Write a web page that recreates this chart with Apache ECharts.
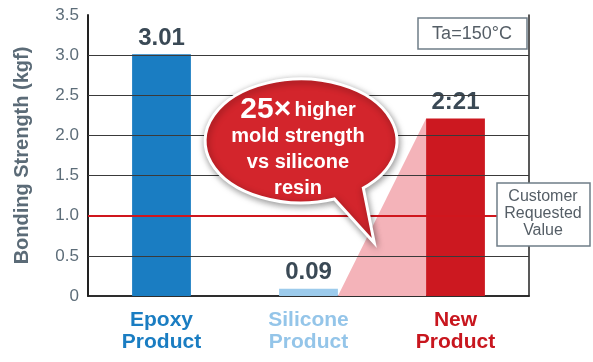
<!DOCTYPE html>
<html>
<head>
<meta charset="utf-8">
<script src="https://cdn.jsdelivr.net/npm/echarts@6/dist/echarts.min.js"></script>
<style>html,body{margin:0;padding:0;background:#fff;}#c{width:593px;height:362px;}</style>
</head>
<body>
<div id="c"></div>
<script>
var categories = ['Epoxy\nProduct', 'Silicone\nProduct', 'New\nProduct'];
var values = [3.01, 0.09, 2.21];
var valueLabels = ['3.01', '0.09', '2:21'];
var barColors = ['#1a7dc2', '#9ccbec', '#cc1820'];
var yTicks = [0, 0.5, 1.0, 1.5, 2.0, 2.5, 3.0, 3.5];
var requestedValue = 1.0;

var FONT = '"Liberation Sans", Arial, sans-serif';
var chart = echarts.init(document.getElementById('c'));

var gridLineData = yTicks.filter(function (t) { return t > 0 && t < 3.5 && t !== requestedValue; })
  .map(function (t) { return { yAxis: t, lineStyle: { color: '#3a3a3a', width: 1 } }; });
gridLineData.push({ yAxis: requestedValue, lineStyle: { color: '#d0161d', width: 2 } });

var option = {
  animation: false,
  textStyle: { fontFamily: FONT },
  grid: { left: 88, right: 64, top: 15, bottom: 66 },
  xAxis: [{
    type: 'category',
    data: categories,
    axisLine: { lineStyle: { color: '#222', width: 1.5 } },
    axisTick: { show: false },
    splitLine: { show: false },
    axisLabel: {
      margin: 13,
      formatter: function (v, i) { return '{c' + i + '|' + v + '}'; },
      rich: {
        c0: { color: '#1a7dc2', fontSize: 21, fontWeight: 'bold', lineHeight: 22, fontFamily: FONT },
        c1: { color: '#94c5e9', fontSize: 21, fontWeight: 'bold', lineHeight: 22, fontFamily: FONT },
        c2: { color: '#c8161e', fontSize: 21, fontWeight: 'bold', lineHeight: 22, fontFamily: FONT }
      }
    }
  }, {
    type: 'category',
    position: 'top',
    data: categories,
    axisLine: { show: true, lineStyle: { color: '#222', width: 1.5 } },
    axisTick: { show: false },
    axisLabel: { show: false },
    splitLine: { show: false }
  }],
  yAxis: [{
    type: 'value',
    min: 0, max: 3.5, interval: 0.5,
    name: 'Bonding Strength (kgf)',
    nameLocation: 'middle',
    nameGap: 56,
    nameTextStyle: { color: '#5b6b77', fontSize: 20, fontWeight: 'bold', fontFamily: FONT },
    axisLine: { show: true, lineStyle: { color: '#222', width: 2 } },
    axisTick: { show: false },
    axisLabel: {
      color: '#5d6d79', fontSize: 17, margin: 9, fontFamily: FONT,
      formatter: function (v) { return v === 0 ? '0' : v.toFixed(1); }
    },
    splitLine: { show: false }
  }, {
    type: 'value',
    position: 'right',
    min: 0, max: 3.5, interval: 0.5,
    axisLine: { show: true, lineStyle: { color: '#222', width: 1.5 } },
    axisTick: { show: false },
    axisLabel: { show: false },
    splitLine: { show: false }
  }],
  series: [
    {
      type: 'custom',
      z: 1,
      data: [[1, 2]],
      renderItem: function (params, api) {
        var bw = api.size([1, 0])[0] * 0.4;
        var p0 = api.coord([1, 0]);
        var p1 = api.coord([2, values[2]]);
        var p2 = api.coord([2, 0]);
        return {
          type: 'polygon',
          shape: { points: [[p0[0] + bw / 2, p0[1]], [p1[0] - bw / 2, p1[1]], [p2[0] - bw / 2, p2[1]]] },
          style: { fill: '#f4b3b9' }
        };
      }
    },
    {
      type: 'line',
      z: 2,
      data: [],
      silent: true,
      markLine: {
        silent: true,
        symbol: ['none', 'none'],
        label: { show: false },
        lineStyle: { type: 'solid' },
        data: gridLineData
      }
    },
    {
      type: 'bar',
      z: 3,
      barWidth: '40%',
      data: values.map(function (v, i) {
        return { value: v, itemStyle: { color: barColors[i] } };
      }),
      label: {
        show: true,
        position: 'top',
        distance: 4,
        formatter: function (p) { return valueLabels[p.dataIndex]; },
        color: '#3a4955',
        fontSize: 24,
        fontWeight: 'bold',
        fontFamily: FONT,
        backgroundColor: '#fff',
        padding: [0, 2],
        lineHeight: 24
      }
    },
    {
      type: 'custom',
      z: 10,
      silent: true,
      data: [[0, 0]],
      renderItem: function () {
        return {
          type: 'group',
          children: [
            {
              type: 'path',
              shape: { pathData: 'M 363 188 L 374 243 L 334 199 A 96 62 0 1 1 363 188 Z', x: 205, y: 79, width: 192, height: 164 },
              style: { fill: '#d3252c', stroke: '#fff', lineWidth: 3, shadowBlur: 7, shadowColor: 'rgba(0,0,0,0.4)', shadowOffsetX: 1, shadowOffsetY: 2 }
            },
            {
              type: 'text',
              x: 298, y: 149,
              style: {
                text: '{big|25×} {med|higher}\n{med|mold strength}\n{med|vs silicone}\n{med|resin}',
                align: 'center',
                verticalAlign: 'middle',
                fill: '#fff',
                fontFamily: FONT,
                rich: {
                  big: { fontSize: 30, fontWeight: 'bold', fill: '#fff', lineHeight: 27, fontFamily: FONT },
                  med: { fontSize: 20, fontWeight: 'bold', fill: '#fff', lineHeight: 26, fontFamily: FONT }
                }
              }
            }
          ]
        };
      }
    }
  ],
  graphic: [
    {
      type: 'rect',
      z: 50,
      shape: { x: 418, y: 18, width: 109, height: 31 },
      style: { fill: '#fff', stroke: '#6f7d88', lineWidth: 1.5 }
    },
    {
      type: 'text',
      z: 51,
      x: 472, y: 34,
      style: { text: 'Ta=150°C', align: 'center', verticalAlign: 'middle', fill: '#555e66', fontSize: 18, fontFamily: FONT }
    },
    {
      type: 'rect',
      z: 50,
      shape: { x: 497, y: 183, width: 93, height: 63 },
      style: { fill: '#fff', stroke: '#6f7d88', lineWidth: 1.5 }
    },
    {
      type: 'text',
      z: 51,
      x: 543, y: 214,
      style: { text: 'Customer\nRequested\nValue', align: 'center', verticalAlign: 'middle', fill: '#555e66', fontSize: 16, lineHeight: 17, fontFamily: FONT }
    }
  ]
};
chart.setOption(option);
</script>
</body>
</html>
